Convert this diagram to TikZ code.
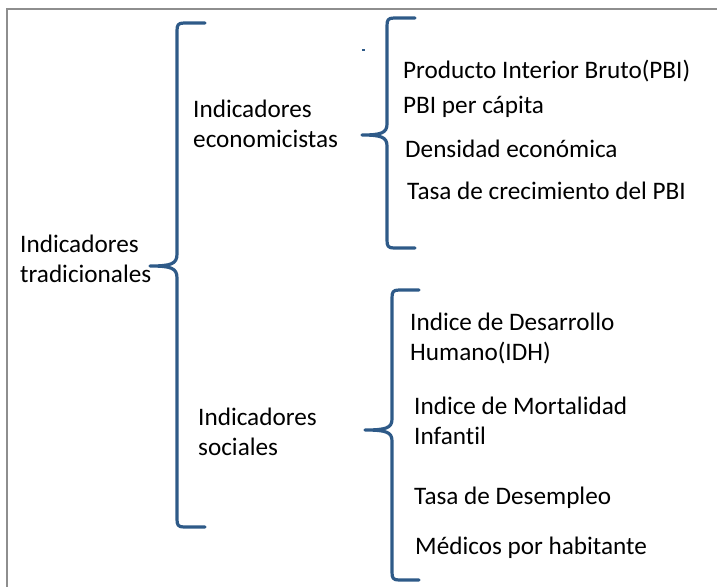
\documentclass[tikz,border=0pt]{standalone}
\usepackage{fontspec}
\usepackage{xcolor}
\setmainfont[Ligatures=NoCommon]{Carlito}
\definecolor{azulllave}{HTML}{2E5A88}
\definecolor{grismarco}{HTML}{8E8E8E}
\tikzset{
    llave/.style={draw=azulllave, line width=3.2pt, line cap=round, line join=round},
    marco/.style={draw=grismarco, line width=1.5pt},
    texto/.style={anchor=base west, inner sep=0pt, align=left, text=black,
        font=\fontsize{25.2}{29.5}\selectfont}
}

\begin{document}
\begin{tikzpicture}[x=1pt,y=-1pt]
    \useasboundingbox (0,0) rectangle (717,587);
    \draw[marco] (717,9) -- (7,9) -- (7,587);

    \node[texto] (trad) at (20,282) {Indicadores\\tradicionales};
    \node[texto] (econ) at (193,147) {Indicadores\\economicistas};
    \node[texto] (soc) at (198,455) {Indicadores\\sociales};

    \node[texto] (pbi) at (403,78) {Producto Interior Bruto(PBI)};
    \node[texto] (percap) at (403,113) {PBI per cápita};
    \node[texto] (dens) at (405,157) {Densidad económica};
    \node[texto] (tasapbi) at (407,199) {Tasa de crecimiento del PBI};

    \node[texto] (idh) at (410,360) {Indice de Desarrollo\\Humano(IDH)};
    \node[texto] (mort) at (414,444) {Indice de Mortalidad\\Infantil};
    \node[texto] (desemp) at (414,504) {Tasa de Desempleo};
    \node[texto] (medicos) at (415,554) {Médicos por habitante};

    \draw[llave] (205,23) -- (184,23) .. controls (178,23) and (177,25) .. (177,31)
        -- (177,254) .. controls (177,264) and (171,266) .. (150,266)
        .. controls (171,266) and (177,268) .. (177,278)
        -- (177,519) .. controls (177,525) and (178,527) .. (184,527) -- (205,527);
    \draw[llave] (415,18) -- (394,18) .. controls (388,18) and (387,20) .. (387,26)
        -- (387,124) .. controls (387,133) and (381,135) .. (362,135)
        .. controls (381,135) and (387,137) .. (387,146)
        -- (387,240) .. controls (387,246) and (388,248) .. (394,248) -- (415,248);
    \draw[llave] (419,290) -- (399,290) .. controls (393,290) and (392,292) .. (392,298)
        -- (392,419) .. controls (392,428) and (386,430) .. (365,430)
        .. controls (386,430) and (392,432) .. (392,441)
        -- (392,572) .. controls (392,578) and (393,580) .. (399,580) -- (419,580);
    \fill[azulllave] (362,49) rectangle (365,51);
\end{tikzpicture}
\end{document}
